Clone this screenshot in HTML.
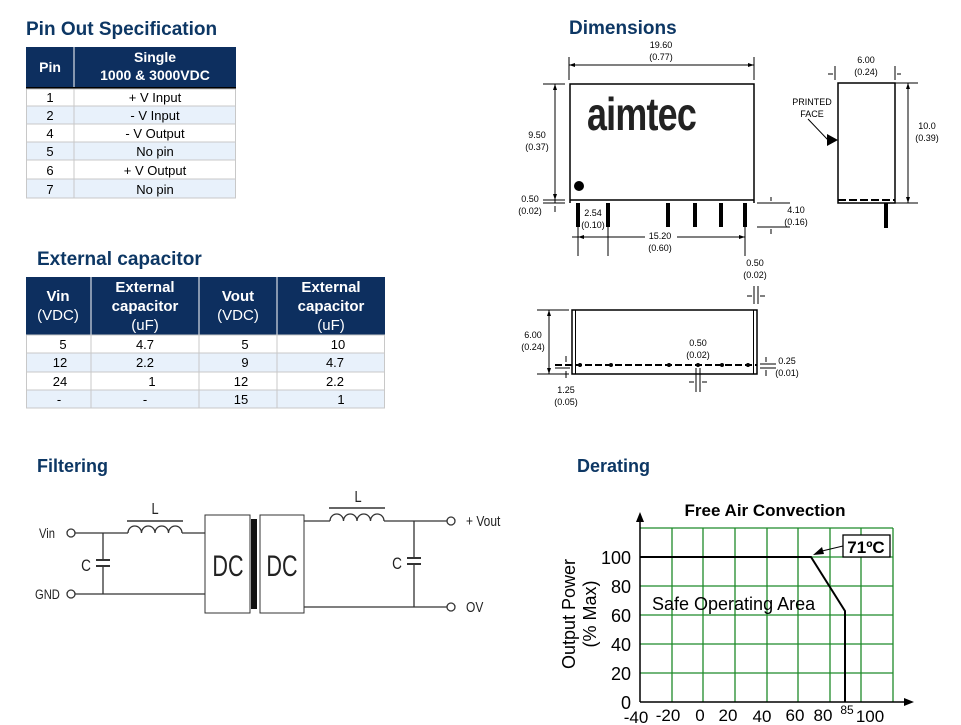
<!DOCTYPE html>
<html><head><meta charset="utf-8"><style>
html,body{margin:0;padding:0;background:#fff;}
svg{display:block;font-family:"Liberation Sans",Arial,sans-serif;}
</style></head><body>
<svg width="961" height="725" viewBox="0 0 961 725" xmlns="http://www.w3.org/2000/svg">
<!-- Pin Out table -->
<text x="26" y="35" font-size="19" font-weight="bold" fill="#0d3764">Pin Out Specification</text>
<rect x="26" y="47" width="210" height="40" fill="#0d2f5f"/>
<line x1="74" y1="47" x2="74" y2="87" stroke="#fff" stroke-width="1"/>
<text x="50" y="72" font-size="14" font-weight="bold" fill="#fff" text-anchor="middle">Pin</text>
<text x="155" y="62" font-size="14" font-weight="bold" fill="#fff" text-anchor="middle">Single</text>
<text x="155" y="80" font-size="14" font-weight="bold" fill="#fff" text-anchor="middle">1000 &amp; 3000VDC</text>
<rect x="26" y="87" width="210" height="2" fill="#000"/>
<g font-size="13" fill="#000" text-anchor="middle">
<rect x="26" y="89" width="210" height="17" fill="#fff"/>
<rect x="26" y="106" width="210" height="18" fill="#e8f1fb"/>
<rect x="26" y="124" width="210" height="18" fill="#fff"/>
<rect x="26" y="142" width="210" height="18" fill="#e8f1fb"/>
<rect x="26" y="160" width="210" height="19" fill="#fff"/>
<rect x="26" y="179" width="210" height="19" fill="#e8f1fb"/>
<g stroke="#c8c8c8" stroke-width="1" fill="none">
<rect x="26.5" y="89" width="209" height="109"/>
<line x1="74" y1="89" x2="74" y2="198"/>
<line x1="26" y1="106" x2="236" y2="106"/><line x1="26" y1="124" x2="236" y2="124"/>
<line x1="26" y1="142" x2="236" y2="142"/><line x1="26" y1="160" x2="236" y2="160"/>
<line x1="26" y1="179" x2="236" y2="179"/>
</g>
<text x="50" y="102">1</text><text x="155" y="102">+ V Input</text>
<text x="50" y="120">2</text><text x="155" y="120">- V Input</text>
<text x="50" y="138">4</text><text x="155" y="138">- V Output</text>
<text x="50" y="156">5</text><text x="155" y="156">No pin</text>
<text x="50" y="175">6</text><text x="155" y="175">+ V Output</text>
<text x="50" y="194">7</text><text x="155" y="194">No pin</text>
</g>

<!-- External capacitor -->
<text x="37" y="265" font-size="19" font-weight="bold" fill="#0d3764">External capacitor</text>
<rect x="26" y="277" width="359" height="58" fill="#0d2f5f"/>
<g stroke="#fff"><line x1="91" y1="277" x2="91" y2="335"/><line x1="199" y1="277" x2="199" y2="335"/><line x1="277" y1="277" x2="277" y2="335"/></g>
<g font-size="15" fill="#fff" text-anchor="middle">
<text x="58" y="301" font-weight="bold">Vin</text><text x="58" y="320">(VDC)</text>
<text x="145" y="292" font-weight="bold">External</text><text x="145" y="311" font-weight="bold">capacitor</text><text x="145" y="330">(uF)</text>
<text x="238" y="301" font-weight="bold">Vout</text><text x="238" y="320">(VDC)</text>
<text x="331" y="292" font-weight="bold">External</text><text x="331" y="311" font-weight="bold">capacitor</text><text x="331" y="330">(uF)</text>
</g>
<rect x="26" y="335" width="359" height="18" fill="#fff"/>
<rect x="26" y="353" width="359" height="19" fill="#e8f1fb"/>
<rect x="26" y="372" width="359" height="18" fill="#fff"/>
<rect x="26" y="390" width="359" height="18" fill="#e8f1fb"/>
<g stroke="#c8c8c8" fill="none">
<rect x="26.5" y="335" width="358" height="73"/>
<line x1="91" y1="335" x2="91" y2="408"/><line x1="199" y1="335" x2="199" y2="408"/><line x1="277" y1="335" x2="277" y2="408"/>
<line x1="26" y1="353" x2="385" y2="353"/><line x1="26" y1="372" x2="385" y2="372"/><line x1="26" y1="390" x2="385" y2="390"/>
</g>
<g font-size="13" fill="#000" text-anchor="middle">
<text x="63" y="349">5</text><text x="145" y="349">4.7</text><text x="245" y="349">5</text><text x="338" y="349">10</text>
<text x="60" y="367">12</text><text x="145" y="367">2.2</text><text x="245" y="367">9</text><text x="335" y="367">4.7</text>
<text x="60" y="386">24</text><text x="152" y="386">1</text><text x="241" y="386">12</text><text x="335" y="386">2.2</text>
<text x="59" y="404">-</text><text x="145" y="404">-</text><text x="241" y="404">15</text><text x="341" y="404">1</text>
</g>

<!-- Dimensions -->
<text x="569" y="34" font-size="19" font-weight="bold" fill="#0d3764">Dimensions</text>
<g font-size="9" fill="#000" text-anchor="middle">
<text x="661" y="48">19.60</text><text x="661" y="60">(0.77)</text>
<text x="537" y="138">9.50</text><text x="537" y="150">(0.37)</text>
<text x="530" y="202">0.50</text><text x="530" y="214">(0.02)</text>
<text x="593" y="216">2.54</text><text x="593" y="228">(0.10)</text>
<text x="660" y="239">15.20</text><text x="660" y="251">(0.60)</text>
<text x="796" y="213">4.10</text><text x="796" y="225">(0.16)</text>
<text x="866" y="63">6.00</text><text x="866" y="75">(0.24)</text>
<text x="927" y="129">10.0</text><text x="927" y="141">(0.39)</text>
<text x="812" y="105">PRINTED</text><text x="812" y="117">FACE</text>
<text x="755" y="266">0.50</text><text x="755" y="278">(0.02)</text>
<text x="533" y="338">6.00</text><text x="533" y="350">(0.24)</text>
<text x="698" y="346">0.50</text><text x="698" y="358">(0.02)</text>
<text x="787" y="364">0.25</text><text x="787" y="376">(0.01)</text>
<text x="566" y="393">1.25</text><text x="566" y="405">(0.05)</text>
</g>
<g stroke="#000" fill="none" stroke-width="1">
<path d="M570 203 V84 H754 V203 M570 200 H754" stroke-width="1.5"/>
<line x1="569" y1="57" x2="569" y2="80"/><line x1="754" y1="57" x2="754" y2="80"/>
<line x1="569" y1="65" x2="754" y2="65"/>
<line x1="543" y1="84" x2="565" y2="84"/><line x1="555" y1="84" x2="555" y2="203"/>
<line x1="543" y1="203" x2="565" y2="203"/><line x1="543" y1="200" x2="565" y2="200"/>
<line x1="555" y1="206" x2="555" y2="212"/>
<line x1="757" y1="203" x2="790" y2="203"/><line x1="757" y1="227" x2="790" y2="227"/>
<line x1="771" y1="197" x2="771" y2="201"/><line x1="771" y1="229" x2="771" y2="234"/>
<line x1="578" y1="227" x2="578" y2="256"/><line x1="608" y1="227" x2="608" y2="256"/><line x1="745" y1="227" x2="745" y2="256"/>
<line x1="572" y1="237" x2="645" y2="237"/><line x1="677" y1="237" x2="745" y2="237"/>
<rect x="838" y="83" width="57" height="120" stroke-width="1.5"/>
<line x1="838" y1="200" x2="895" y2="200" stroke-width="2" stroke-dasharray="8,3"/>
<line x1="835" y1="66" x2="835" y2="80"/><line x1="895" y1="66" x2="895" y2="80"/>
<line x1="828" y1="74" x2="833" y2="74"/><line x1="897" y1="74" x2="901" y2="74"/>
<line x1="895" y1="83" x2="918" y2="83"/><line x1="895" y1="203" x2="918" y2="203"/>
<line x1="908" y1="83" x2="908" y2="203"/>
<line x1="808" y1="119" x2="828" y2="140"/>
<path d="M572 374 V310 H757 V374 Z" stroke-width="1.5"/>
<line x1="575.5" y1="310" x2="575.5" y2="374"/><line x1="753.5" y1="310" x2="753.5" y2="374"/>
<line x1="537" y1="310" x2="569" y2="310"/><line x1="537" y1="374" x2="569" y2="374"/>
<line x1="549" y1="310" x2="549" y2="374"/>
<line x1="555" y1="365" x2="757" y2="365" stroke-width="2" stroke-dasharray="7,3"/>
<line x1="555" y1="368" x2="570" y2="368"/>
<line x1="566" y1="356" x2="566" y2="362"/><line x1="566" y1="371" x2="566" y2="378"/>
<line x1="696" y1="368" x2="696" y2="392"/><line x1="700" y1="368" x2="700" y2="392"/>
<line x1="689" y1="382" x2="694" y2="382"/><line x1="702" y1="382" x2="707" y2="382"/>
<line x1="754" y1="286" x2="754" y2="304"/><line x1="758" y1="286" x2="758" y2="304"/>
<line x1="747" y1="296" x2="752" y2="296"/><line x1="760" y1="296" x2="765" y2="296"/>
<line x1="760" y1="364" x2="776" y2="364"/><line x1="760" y1="368" x2="776" y2="368"/>
<line x1="766" y1="357" x2="766" y2="362"/><line x1="766" y1="370" x2="766" y2="376"/>
</g>
<g fill="#000">
<rect x="576" y="203" width="4" height="24"/><rect x="606" y="203" width="4" height="24"/>
<rect x="666" y="203" width="4" height="24"/><rect x="693" y="203" width="4" height="24"/>
<rect x="719" y="203" width="4" height="24"/><rect x="743" y="203" width="4" height="24"/>
<rect x="884" y="203" width="4" height="25"/>
<circle cx="579" cy="186" r="5"/>
<polygon points="827,134 838,140 827,146"/>
<polygon points="569,65 575,63 575,67"/><polygon points="754,65 748,63 748,67"/>
<polygon points="555,84 553,90 557,90"/><polygon points="555,200 553,194 557,194"/>
<polygon points="578,237 584,235 584,239"/><polygon points="745,237 739,235 739,239"/>
<polygon points="908,83 906,89 910,89"/><polygon points="908,203 906,197 910,197"/>
<polygon points="549,310 547,316 551,316"/><polygon points="549,374 547,368 551,368"/>
<circle cx="580" cy="365" r="2"/><circle cx="611" cy="365" r="2"/><circle cx="669" cy="365" r="2"/><circle cx="698" cy="365" r="2"/><circle cx="722" cy="365" r="2"/><circle cx="748" cy="365" r="2"/>
</g>
<text transform="translate(587,130) scale(0.78,1)" font-size="46" font-weight="bold" fill="#222" letter-spacing="-1">aimtec</text>

<!-- Filtering -->
<text x="37" y="472" font-size="18" font-weight="bold" fill="#0d3764">Filtering</text>
<g stroke="#333" fill="none" stroke-width="1.3">
<circle cx="71" cy="533" r="4"/><circle cx="71" cy="594" r="4"/>
<line x1="75" y1="533" x2="128" y2="533"/>
<path d="M128 533 a6.75 7 0 0 1 13.5 0 a6.75 7 0 0 1 13.5 0 a6.75 7 0 0 1 13.5 0 a6.75 7 0 0 1 13.5 0"/>
<line x1="127" y1="521" x2="183" y2="521" stroke-width="1.6"/>
<line x1="182" y1="533" x2="205" y2="533"/>
<line x1="103" y1="533" x2="103" y2="560"/><line x1="103" y1="566" x2="103" y2="594"/>
<line x1="96" y1="560" x2="110" y2="560" stroke-width="2"/><line x1="96" y1="566" x2="110" y2="566" stroke-width="2"/>
<line x1="75" y1="594" x2="205" y2="594"/>
<rect x="205" y="515" width="45" height="98" stroke-width="1"/>
<rect x="260" y="515" width="44" height="98" stroke-width="1"/>
<line x1="304" y1="521" x2="330" y2="521"/>
<path d="M330 521 a6.75 7 0 0 1 13.5 0 a6.75 7 0 0 1 13.5 0 a6.75 7 0 0 1 13.5 0 a6.75 7 0 0 1 13.5 0"/>
<line x1="329" y1="508" x2="385" y2="508" stroke-width="1.6"/>
<line x1="384" y1="521" x2="447" y2="521"/>
<line x1="414" y1="521" x2="414" y2="558"/><line x1="414" y1="564" x2="414" y2="607"/>
<line x1="407" y1="558" x2="421" y2="558" stroke-width="2"/><line x1="407" y1="564" x2="421" y2="564" stroke-width="2"/>
<line x1="304" y1="607" x2="447" y2="607"/>
<circle cx="451" cy="521" r="4"/><circle cx="451" cy="607" r="4"/>
</g>
<rect x="251" y="519" width="6" height="90" fill="#111"/>
<g fill="#222">
<text transform="translate(39,538) scale(0.8,1)" font-size="14">Vin</text>
<text transform="translate(35,599) scale(0.8,1)" font-size="14">GND</text>
<text transform="translate(155,514) scale(0.8,1)" font-size="16" text-anchor="middle">L</text>
<text transform="translate(358,502) scale(0.8,1)" font-size="16" text-anchor="middle">L</text>
<text transform="translate(86,571) scale(0.8,1)" font-size="17" text-anchor="middle">C</text>
<text transform="translate(397,569) scale(0.8,1)" font-size="17" text-anchor="middle">C</text>
<text transform="translate(228,576) scale(0.72,1)" font-size="30" text-anchor="middle">DC</text>
<text transform="translate(282,576) scale(0.72,1)" font-size="30" text-anchor="middle">DC</text>
<text transform="translate(466,526) scale(0.8,1)" font-size="15">+ Vout</text>
<text transform="translate(466,612) scale(0.8,1)" font-size="15">OV</text>
</g>

<!-- Derating -->
<text x="577" y="472" font-size="18" font-weight="bold" fill="#0d3764">Derating</text>
<text x="765" y="516" font-size="17" font-weight="bold" text-anchor="middle">Free Air Convection</text>
<g stroke="#1f8a2a" stroke-width="1.3">
<line x1="672" y1="528" x2="672" y2="702"/><line x1="703" y1="528" x2="703" y2="702"/><line x1="735" y1="528" x2="735" y2="702"/>
<line x1="767" y1="528" x2="767" y2="702"/><line x1="798" y1="528" x2="798" y2="702"/><line x1="830" y1="528" x2="830" y2="702"/>
<line x1="861" y1="528" x2="861" y2="702"/><line x1="893" y1="528" x2="893" y2="702"/>
<line x1="640" y1="528" x2="893" y2="528"/><line x1="640" y1="586" x2="893" y2="586"/>
<line x1="640" y1="615" x2="893" y2="615"/><line x1="640" y1="644" x2="893" y2="644"/><line x1="640" y1="673" x2="893" y2="673"/>
<line x1="640" y1="557" x2="893" y2="557"/>
</g>
<text x="652" y="610" font-size="18" fill="#000">Safe Operating Area</text>
<g stroke="#000" fill="none">
<line x1="640" y1="702" x2="640" y2="520" stroke-width="1.5"/>
<line x1="640" y1="702" x2="907" y2="702" stroke-width="1.5"/>
<polyline points="640,557 811,557 845,611 845,702" stroke-width="2"/>
<line x1="843" y1="546" x2="822" y2="551" stroke-width="1"/>
</g>
<polygon points="640,512 636,522 644,522" fill="#000"/>
<polygon points="914,702 904,698 904,706" fill="#000"/>
<polygon points="813,555 822,547 824,554" fill="#000"/>
<rect x="843" y="535" width="47" height="22" fill="#fff" stroke="#000" stroke-width="1.3"/>
<text x="866" y="553" font-size="17" font-weight="bold" text-anchor="middle">71ºC</text>
<g font-size="18" fill="#000" text-anchor="end">
<text x="631" y="564">100</text><text x="631" y="593">80</text><text x="631" y="622">60</text>
<text x="631" y="651">40</text><text x="631" y="680">20</text><text x="631" y="709">0</text>
</g>
<g font-size="17" fill="#000" text-anchor="middle">
<text x="636" y="723">-40</text><text x="668" y="721">-20</text><text x="700" y="721">0</text><text x="728" y="721">20</text>
<text x="762" y="722">40</text><text x="795" y="721">60</text><text x="823" y="721">80</text><text x="870" y="722">100</text>
</g>
<text x="847" y="714" font-size="12" text-anchor="middle">85</text>
<text transform="translate(575,614) rotate(-90)" font-size="18" text-anchor="middle">Output Power</text>
<text transform="translate(596,614) rotate(-90)" font-size="18" text-anchor="middle">(% Max)</text>
</svg>
</body></html>
